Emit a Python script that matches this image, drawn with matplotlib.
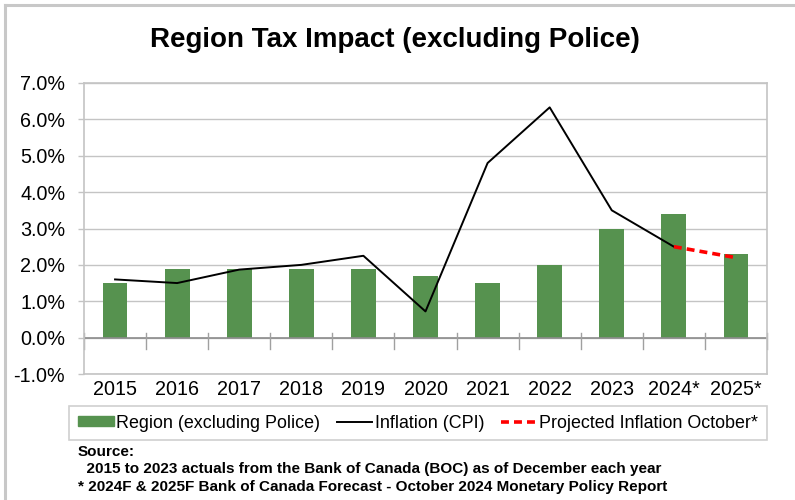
import numpy as np
import matplotlib.pyplot as plt
from matplotlib.lines import Line2D
from matplotlib.patches import Patch

plt.rcParams['font.family'] = ['Liberation Sans', 'DejaVu Sans']

years = ['2015', '2016', '2017', '2018', '2019', '2020', '2021', '2022',
         '2023', '2024*', '2025*']
region_tax = [1.5, 1.9, 1.9, 1.9, 1.9, 1.7, 1.5, 2.0, 3.0, 3.4, 2.3]
cpi_actual = [1.6, 1.5, 1.87, 2.0, 2.25, 0.72, 4.8, 6.33, 3.5, 2.5]
cpi_projected = [2.5, 2.2]  # 2024 -> 2025 forecast

green = '#56924f'
grid_col = '#c4c4c4'

fig = plt.figure(figsize=(7.95, 5.0), dpi=100)
ax = fig.add_axes([84 / 795, 1 - 374 / 500, (767 - 84) / 795, (374 - 83) / 500])

x = np.arange(len(years))
ax.bar(x, region_tax, width=0.4, color=green, zorder=2)
ax.plot(x[:len(cpi_actual)], cpi_actual, color='black', lw=1.4, zorder=3)
ax.plot(x[-2:], cpi_projected, color='red', lw=2.6, ls=(0, (2.2, 1.4)), zorder=4)

ax.set_xlim(-0.5, len(years) - 0.5)
ax.set_ylim(-1, 7)
ax.set_yticks(np.arange(-1, 8, 1))
ax.set_yticklabels([f'{v:.1f}%' for v in np.arange(-1, 8, 1)], fontsize=14.2)
ax.set_xticks(x)
ax.set_xticklabels(years, fontsize=14.2)
ax.tick_params(axis='x', length=0, pad=4)
ax.tick_params(axis='y', length=4.5, color=grid_col, width=1, pad=9)
ax.yaxis.grid(True, color=grid_col, lw=1)
ax.set_axisbelow(True)
for s in ax.spines.values():
    s.set_color(grid_col)
    s.set_linewidth(1.2)

# category axis at zero with boundary ticks
ax.axhline(0, color='#8c8c8c', lw=1.2, zorder=2.5)
for b in np.arange(-0.5, len(years), 1):
    ax.plot([b, b], [-0.3, 0.12], color='#a0a0a0', lw=1, zorder=2.5, clip_on=False)

fig.text(0.497, 1 - 40 / 500, 'Region Tax Impact (excluding Police)',
         ha='center', va='center', fontsize=20, fontweight='bold')

handles = [Patch(color=green),
           Line2D([], [], color='black', lw=1.4),
           Line2D([], [], color='red', lw=2.6, ls=(0, (2.2, 1.4)))]
labels = ['Region (excluding Police)', 'Inflation (CPI)',
          'Projected Inflation October*']
leg = fig.legend(handles, labels, ncol=3, loc='center',
                 bbox_to_anchor=((65 + 771) / 2 / 795, 1 - 423 / 500),
                 fontsize=12.9, frameon=True, fancybox=False, handlelength=2.0,
                 handleheight=0.45, handletextpad=0.15, columnspacing=0.9,
                 borderpad=0.5)
leg.get_frame().set_edgecolor(grid_col)
leg.get_frame().set_linewidth(1.2)

fig.text(78 / 795, 1 - 452 / 500, 'Source:', fontsize=11, fontweight='bold',
         va='center')
fig.text(78 / 795, 1 - 469 / 500,
         '  2015 to 2023 actuals from the Bank of Canada (BOC) as of December each year',
         fontsize=11, fontweight='bold', va='center')
fig.text(78 / 795, 1 - 487 / 500,
         '* 2024F & 2025F Bank of Canada Forecast - October 2024 Monetary Policy Report',
         fontsize=11, fontweight='bold', va='center')

# outer chart frame (top and left edges)
fig.add_artist(Line2D([5 / 795, 5 / 795], [0, 1 - 5 / 500], color='#c8c8c8', lw=2.2))
fig.add_artist(Line2D([5 / 795, 1], [1 - 5 / 500, 1 - 5 / 500], color='#c8c8c8', lw=2.2))

fig.savefig('out.png', dpi=100)
